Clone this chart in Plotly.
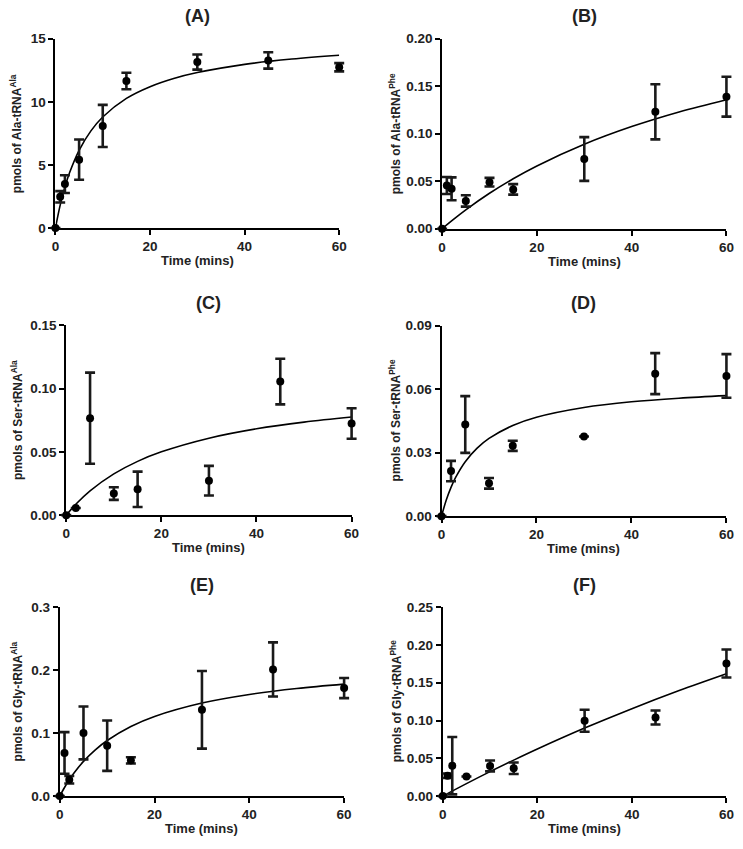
import plotly.graph_objects as go

# ---------------- data ----------------
# Panel A: Ala-tRNA^Ala
a_t = [0, 1, 2, 5, 10, 15, 30, 45, 60]
a_y = [0, 2.47, 3.48, 5.42, 8.09, 11.65, 13.15, 13.28, 12.74]
a_e = [0, 0.45, 0.70, 1.60, 1.67, 0.65, 0.60, 0.65, 0.33]
a_fit_t = [0, 1, 2, 3, 5, 7.5, 10, 15, 20, 25, 30, 40, 50, 60]
a_fit_y = [0, 1.81, 3.24, 4.40, 6.16, 7.70, 8.80, 10.27, 11.20, 11.85, 12.32, 12.97, 13.39, 13.69]

# Panel B: Ala-tRNA^Phe
b_t = [0, 1, 2, 5, 10, 15, 30, 45, 60]
b_y = [0, 0.0455, 0.042, 0.0293, 0.049, 0.0414, 0.0734, 0.123, 0.139]
b_e = [0, 0.009, 0.012, 0.006, 0.0045, 0.0055, 0.023, 0.029, 0.021]
b_fit_t = [0, 2, 5, 10, 15, 20, 30, 40, 50, 60]
b_fit_y = [0, 0.0083, 0.0199, 0.0373, 0.0526, 0.0661, 0.0889, 0.1075, 0.1229, 0.1358]

# Panel C: Ser-tRNA^Ala
c_t = [0, 2, 5, 10, 15, 30, 45, 60]
c_y = [0, 0.0057, 0.0766, 0.0171, 0.0204, 0.0272, 0.1055, 0.0724]
c_e = [0, 0, 0.036, 0.005, 0.014, 0.0117, 0.018, 0.012]
c_fit_t = [0, 2, 5, 10, 15, 20, 30, 40, 50, 60]
c_fit_y = [0, 0.0086, 0.0192, 0.0326, 0.0425, 0.050, 0.0608, 0.0682, 0.0735, 0.0775]

# Panel D: Ser-tRNA^Phe
d_t = [0, 2, 5, 10, 15, 30, 45, 60]
d_y = [0, 0.0213, 0.0433, 0.0155, 0.0332, 0.0376, 0.0673, 0.0662]
d_e = [0, 0.0048, 0.0134, 0.0025, 0.0024, 0, 0.0097, 0.0103]
d_fit_t = [0, 1, 2, 3, 5, 7.5, 10, 15, 20, 30, 40, 50, 60]
d_fit_y = [0, 0.0076, 0.0136, 0.0184, 0.0257, 0.0321, 0.0367, 0.0428, 0.0467, 0.0513, 0.054, 0.0557, 0.0569]

# Panel E: Gly-tRNA^Ala
e_t = [0, 1, 2, 5, 10, 15, 30, 45, 60]
e_y = [0, 0.0686, 0.026, 0.1004, 0.080, 0.0567, 0.137, 0.2012, 0.1716]
e_e = [0, 0.033, 0.006, 0.042, 0.040, 0.005, 0.0616, 0.043, 0.016]
e_fit_t = [0, 1, 2, 3, 5, 7.5, 10, 15, 20, 30, 40, 50, 60]
e_fit_y = [0, 0.0137, 0.0259, 0.0367, 0.0551, 0.0735, 0.0883, 0.1106, 0.1265, 0.1478, 0.1614, 0.1709, 0.1778]

# Panel F: Gly-tRNA^Phe
f_t = [0, 1, 2, 5, 10, 15, 30, 45, 60]
f_y = [0, 0.027, 0.0403, 0.026, 0.0399, 0.0368, 0.0997, 0.104, 0.1755]
f_e = [0, 0.003, 0.038, 0, 0.0072, 0.0076, 0.0145, 0.0093, 0.0185]
f_fit_t = [0, 5, 10, 15, 20, 30, 40, 50, 60]
f_fit_y = [0, 0.0165, 0.0324, 0.0476, 0.0623, 0.090, 0.1157, 0.1397, 0.162]

panel_letters = ["(A)", "(B)", "(C)", "(D)", "(E)", "(F)"]
y_titles = ["pmols of Ala-tRNA<sup>Ala</sup>", "pmols of Ala-tRNA<sup>Phe</sup>",
            "pmols of Ser-tRNA<sup>Ala</sup>", "pmols of Ser-tRNA<sup>Phe</sup>",
            "pmols of Gly-tRNA<sup>Ala</sup>", "pmols of Gly-tRNA<sup>Phe</sup>"]
x_title = "Time (mins)"
x_ticks = [0, 20, 40, 60]
y_ticks = [
    [0, 5, 10, 15],
    [0, 0.05, 0.10, 0.15, 0.20],
    [0, 0.05, 0.10, 0.15],
    [0, 0.03, 0.06, 0.09],
    [0, 0.1, 0.2, 0.3],
    [0, 0.05, 0.10, 0.15, 0.20, 0.25],
]
y_formats = ["d", ".2f", ".2f", ".2f", ".1f", ".2f"]

series = [
    (a_t, a_y, a_e, a_fit_t, a_fit_y),
    (b_t, b_y, b_e, b_fit_t, b_fit_y),
    (c_t, c_y, c_e, c_fit_t, c_fit_y),
    (d_t, d_y, d_e, d_fit_t, d_fit_y),
    (e_t, e_y, e_e, e_fit_t, e_fit_y),
    (f_t, f_y, f_e, f_fit_t, f_fit_y),
]

# ---------------- layout (pixel boxes) ----------------
W, H = 743, 849
boxes = [  # x0, x1, ytop, ybottom in pixels
    (52.3, 340.7, 32.3, 225.0),
    (445.3, 734.3, 32.3, 225.7),
    (63.3, 353.3, 324.0, 517.3),
    (444.7, 734.3, 324.3, 518.3),
    (56.7, 345.7, 611.0, 803.3),
    (446.0, 734.3, 611.0, 803.3),
]
ytitle_x = [13, 397, 13, 397, 13, 398]
PAD = 8  # extra pixels so markers / error bars at the axis ends are not clipped

FONT = "Liberation Sans, Arial, Helvetica, sans-serif"
fig = go.Figure()
annotations = []
layout = {}

for i, ((t, y, e, ft, fy), (x0, x1, yt, yb)) in enumerate(zip(series, boxes)):
    n = "" if i == 0 else str(i + 1)
    m = str(i + 7)
    xa, ya = "x" + n, "y" + n
    xo, yo = "x" + m, "y" + m
    ymax = y_ticks[i][-1]
    sx = (x1 - x0) / 60.0
    sy = (yb - yt) / ymax

    fig.add_trace(go.Scatter(x=ft, y=fy, mode="lines", line=dict(color="black", width=1.6, shape="spline"),
                             xaxis=xa, yaxis=ya, hoverinfo="skip", showlegend=False))
    fig.add_trace(go.Scatter(x=t, y=y, mode="markers",
                             marker=dict(color="black", size=8, symbol="circle"),
                             error_y=dict(type="data", array=e, visible=True, color="#1a1a1a", thickness=2.6, width=5),
                             xaxis=xo, yaxis=yo, cliponaxis=False, showlegend=False))

    axis_common = dict(showline=True, linecolor="black", linewidth=2, ticks="outside", ticklen=5,
                       tickwidth=2, tickcolor="black", showgrid=False, zeroline=False, fixedrange=True,
                       tickfont=dict(family=FONT, size=13.5, color="#222", weight="bold"))
    layout["xaxis" + n] = dict(domain=[x0 / W, x1 / W], anchor=ya, range=[0, 60],
                               tickvals=x_ticks, **axis_common)
    layout["yaxis" + n] = dict(domain=[1 - yb / H, 1 - yt / H], anchor=xa, range=[0, ymax],
                               tickvals=y_ticks[i], tickformat=y_formats[i], **axis_common)
    # invisible overlay axes, same scale, slightly larger area
    pr = min(PAD, W - x1 - 0.5)
    layout["xaxis" + m] = dict(domain=[(x0 - PAD) / W, (x1 + pr) / W], anchor=yo,
                               range=[-PAD / sx, 60 + pr / sx], visible=False, fixedrange=True)
    layout["yaxis" + m] = dict(domain=[1 - (yb + PAD) / H, 1 - (yt - PAD) / H], anchor=xo,
                               range=[-PAD / sy, ymax + PAD / sy], visible=False, fixedrange=True)

    cx = (x0 + x1) / 2
    annotations.append(dict(text="<b>" + panel_letters[i] + "</b>", x=cx / W, y=1 - (yt - 23) / H,
                            xref="paper", yref="paper", showarrow=False, xanchor="center", yanchor="middle",
                            font=dict(family=FONT, size=18, color="#222")))
    annotations.append(dict(text="<b>" + x_title + "</b>", x=cx / W, y=1 - (yb + 33) / H,
                            xref="paper", yref="paper", showarrow=False, xanchor="center", yanchor="middle",
                            font=dict(family=FONT, size=13, color="#222")))
    annotations.append(dict(text="<b>" + y_titles[i] + "</b>", x=ytitle_x[i] / W, y=1 - ((yt + yb) / 2) / H,
                            xref="paper", yref="paper", showarrow=False, xanchor="center", yanchor="middle",
                            textangle=-90, font=dict(family=FONT, size=12, color="#222")))

fig.update_layout(width=W, height=H, margin=dict(l=0, r=0, t=0, b=0),
                  paper_bgcolor="white", plot_bgcolor="rgba(0,0,0,0)",
                  annotations=annotations, showlegend=False, **layout)
fig.write_html("out.html", config={"displayModeBar": False, "staticPlot": True},
               post_script="document.body.style.margin='0';document.body.style.overflow='hidden';")
